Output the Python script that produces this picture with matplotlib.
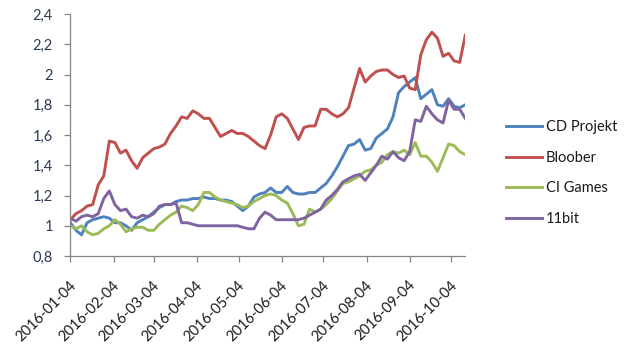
import matplotlib
matplotlib.use("Agg")
import matplotlib.pyplot as plt
from matplotlib.ticker import FuncFormatter, MultipleLocator
from matplotlib.transforms import ScaledTranslation
import pandas as pd

# Sampling grid: every 4 days starting 2016-01-04
start_date = "2016-01-04"
n_points = 72
step = "4D"

cd_projekt = [1.02, 0.97, 0.94, 1.02, 1.04, 1.05, 1.06, 1.05, 1.02, 1.02,
              1.00, 0.97, 1.02, 1.04, 1.06, 1.09, 1.12, 1.14, 1.14, 1.16,
              1.17, 1.17, 1.18, 1.18, 1.19, 1.18, 1.18, 1.17, 1.17, 1.16,
              1.13, 1.10, 1.13, 1.19, 1.21, 1.22, 1.25, 1.22, 1.22, 1.26,
              1.22, 1.21, 1.21, 1.22, 1.22, 1.25, 1.28, 1.33, 1.39, 1.46,
              1.53, 1.54, 1.57, 1.50, 1.51, 1.58, 1.61, 1.64, 1.72, 1.88,
              1.92, 1.95, 1.98, 1.84, 1.87, 1.90, 1.80, 1.79, 1.84, 1.79,
              1.78, 1.80]

bloober = [1.04, 1.08, 1.10, 1.13, 1.14, 1.27, 1.33, 1.56, 1.55, 1.48,
           1.50, 1.43, 1.38, 1.45, 1.48, 1.51, 1.52, 1.54, 1.61, 1.66,
           1.72, 1.71, 1.76, 1.74, 1.71, 1.71, 1.65, 1.59, 1.61, 1.63,
           1.61, 1.61, 1.59, 1.56, 1.53, 1.51, 1.60, 1.72, 1.74, 1.71,
           1.64, 1.57, 1.65, 1.66, 1.66, 1.77, 1.77, 1.74, 1.72, 1.74,
           1.78, 1.91, 2.04, 1.95, 1.99, 2.02, 2.03, 2.03, 2.00, 1.98,
           1.99, 1.91, 1.90, 2.13, 2.23, 2.28, 2.24, 2.12, 2.14, 2.09,
           2.08, 2.26]

ci_games = [1.00, 0.98, 1.00, 0.96, 0.94, 0.95, 0.98, 1.00, 1.04, 1.01,
            0.96, 0.98, 0.99, 0.99, 0.97, 0.97, 1.01, 1.04, 1.07, 1.09,
            1.13, 1.12, 1.10, 1.14, 1.22, 1.22, 1.19, 1.17, 1.16, 1.15,
            1.14, 1.12, 1.13, 1.16, 1.18, 1.20, 1.21, 1.20, 1.17, 1.15,
            1.08, 1.00, 1.01, 1.11, 1.09, 1.11, 1.14, 1.18, 1.23, 1.28,
            1.29, 1.31, 1.33, 1.36, 1.37, 1.40, 1.42, 1.47, 1.49, 1.48,
            1.50, 1.47, 1.55, 1.46, 1.46, 1.42, 1.36, 1.45, 1.54, 1.53,
            1.49, 1.47]

bit11 = [1.05, 1.03, 1.06, 1.07, 1.06, 1.08, 1.18, 1.23, 1.14, 1.10,
         1.11, 1.06, 1.05, 1.07, 1.06, 1.08, 1.13, 1.14, 1.14, 1.15,
         1.02, 1.02, 1.01, 1.00, 1.00, 1.00, 1.00, 1.00, 1.00, 1.00,
         1.00, 0.99, 0.98, 0.98, 1.05, 1.09, 1.07, 1.04, 1.04, 1.04,
         1.04, 1.04, 1.05, 1.07, 1.09, 1.11, 1.17, 1.20, 1.24, 1.29,
         1.31, 1.33, 1.34, 1.30, 1.35, 1.40, 1.46, 1.44, 1.49, 1.45,
         1.43, 1.49, 1.70, 1.69, 1.79, 1.74, 1.70, 1.68, 1.83, 1.77,
         1.77, 1.71]

series_names = ["CD Projekt", "Bloober", "CI Games", "11bit"]
series_colors = ["#4F81BD", "#C0504D", "#9BBB59", "#8064A2"]
tick_dates = ["2016-01-04", "2016-02-04", "2016-03-04", "2016-04-04",
              "2016-05-04", "2016-06-04", "2016-07-04", "2016-08-04",
              "2016-09-04", "2016-10-04"]

dates = pd.date_range(start_date, periods=n_points, freq=step)

plt.rcParams['font.family'] = ['Lato', 'DejaVu Sans']
fig = plt.figure(figsize=(6.4, 3.52), dpi=100)
ax = fig.add_axes([0.110, 0.2727, 0.617, 0.6875])

for name, vals, col in zip(series_names, [cd_projekt, bloober, ci_games, bit11], series_colors):
    ax.plot(dates, vals, color=col, lw=2.1, label=name, solid_joinstyle='round')

ax.set_ylim(0.8, 2.4)
ax.yaxis.set_major_locator(MultipleLocator(0.2))
ax.yaxis.set_major_formatter(FuncFormatter(lambda v, p: f"{v:.1f}".rstrip('0').rstrip('.').replace('.', ',')))
ax.set_xlim(pd.Timestamp("2016-01-04"), pd.Timestamp("2016-10-14"))
tds = pd.to_datetime(tick_dates)
ax.set_xticks(tds)
ax.set_xticklabels([])

offset = ScaledTranslation(0.035, -0.27, fig.dpi_scale_trans)
for d, lab in zip(tds, tick_dates):
    ax.text(d, 0, lab, transform=ax.get_xaxis_transform() + offset, rotation=45,
            ha='right', va='center', rotation_mode='anchor', fontsize=10.5,
            color='#1a1a1a', clip_on=False)

for s in ['top', 'right']:
    ax.spines[s].set_visible(False)
for s in ['left', 'bottom']:
    ax.spines[s].set_color('#868686')
    ax.spines[s].set_linewidth(0.9)
ax.tick_params(axis='both', colors='#868686', length=4, width=0.9)
ax.tick_params(axis='y', pad=8.5, labelsize=10.5, labelcolor='#2B3A55')

fig.legend(loc='center left', bbox_to_anchor=(506 / 640, 1 - 173 / 352), frameon=False,
           fontsize=10.5, handlelength=2.5, handletextpad=0.25, labelspacing=1.15,
           borderpad=0, borderaxespad=0, labelcolor='#1a1a1a')

fig.savefig("out.png", dpi=100)
